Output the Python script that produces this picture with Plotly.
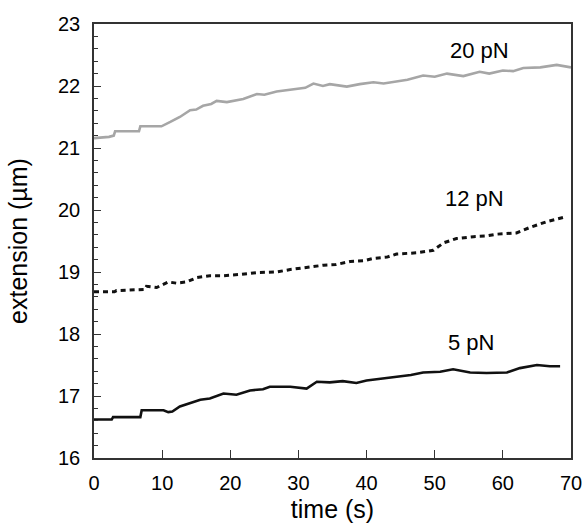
import plotly.graph_objects as go

t_20 = [0, 2.2, 2.9, 3.1, 6.6, 6.8, 9.9, 10.5, 11.2, 12.6, 13.2, 14.1, 15.0, 16, 17.2, 18, 19.5, 21.9, 23.9,
        25.0, 26.8, 28.2, 29.7, 31.0, 32.2, 33.6, 34.6, 37.1, 39.0, 41, 42.5, 44.4, 46.0, 48.3, 50.0, 51.8,
        54.2, 56.6, 58.0, 60, 61.5, 63, 65.5, 67.9, 70]
y_20 = [21.16, 21.18, 21.20, 21.27, 21.27, 21.35, 21.35, 21.38, 21.42, 21.50, 21.54, 21.61, 21.62, 21.68, 21.71,
        21.76, 21.74, 21.79, 21.87, 21.86, 21.91, 21.93, 21.95, 21.97, 22.04, 22.00, 22.03, 21.99, 22.03, 22.06,
        22.04, 22.07, 22.10, 22.17, 22.15, 22.20, 22.16, 22.23, 22.20, 22.25, 22.24, 22.29, 22.30, 22.34, 22.30]

t_12 = [0, 3.0, 3.3, 6.3, 7.5, 7.7, 9.2, 10.9, 12.1, 13.6, 15.1, 17, 19, 21.4, 23.9, 26.8, 28.8, 31.7, 33.7,
        35.5, 37.6, 39.5, 41, 43.0, 44.4, 47.4, 49.8, 51.3, 53.2, 55.7, 57.5, 59.1, 62, 64, 66.4, 68.9]
y_12 = [18.68, 18.68, 18.70, 18.71, 18.72, 18.77, 18.75, 18.84, 18.82, 18.84, 18.91, 18.94, 18.94, 18.96, 18.99,
        19.00, 19.04, 19.08, 19.11, 19.12, 19.17, 19.18, 19.22, 19.24, 19.29, 19.31, 19.35, 19.47, 19.54, 19.57,
        19.58, 19.61, 19.63, 19.72, 19.81, 19.88]

t_5 = [0, 2.6, 2.8, 6.8, 7.0, 10.2, 10.9, 11.5, 12.6, 14.1, 15.6, 17, 19, 20.9, 22.9, 24.8, 25.8, 28.8, 31.2,
       32.7, 34.6, 36.5, 38.5, 40.0, 42, 44.4, 46.5, 48.3, 50.8, 52.7, 55.2, 57.6, 60.6, 62.5, 65, 66.9, 68.4]
y_5 = [16.62, 16.62, 16.66, 16.66, 16.77, 16.77, 16.74, 16.75, 16.83, 16.88, 16.94, 16.96, 17.04, 17.02, 17.09,
       17.11, 17.15, 17.15, 17.12, 17.23, 17.22, 17.24, 17.21, 17.25, 17.28, 17.32, 17.34, 17.38, 17.39, 17.43,
       17.38, 17.37, 17.38, 17.45, 17.50, 17.48, 17.48]

labels = ["20 pN", "12 pN", "5 pN"]
label_x = [56.5, 55.8, 55.3]
label_y = [22.57, 20.18, 17.86]

FONT = "Liberation Sans, Arial, sans-serif"

fig = go.Figure()
fig.add_trace(go.Scatter(x=t_20, y=y_20, mode="lines", line=dict(color="#a6a6a6", width=2.6)))
fig.add_trace(go.Scatter(x=t_12, y=y_12, mode="lines", line=dict(color="#111111", width=3, dash="5px,4px")))
fig.add_trace(go.Scatter(x=t_5, y=y_5, mode="lines", line=dict(color="#111111", width=2.6)))

for txt, lx, ly in zip(labels, label_x, label_y):
    fig.add_annotation(x=lx, y=ly, text=txt, showarrow=False, font=dict(family=FONT, size=22, color="#000"))

fig.update_layout(
    width=584, height=531,
    margin=dict(l=94, r=13, t=24, b=73, autoexpand=False),
    paper_bgcolor="white", plot_bgcolor="white",
    showlegend=False,
    font=dict(family=FONT, size=20, color="#000"),
)
fig.update_xaxes(
    range=[0, 70], tickvals=[0, 10, 20, 30, 40, 50, 60, 70],
    showgrid=False, zeroline=False, automargin=False,
    showline=True, linecolor="#333", linewidth=1.5, mirror=True,
    ticks="inside", ticklen=8, tickwidth=1.2, tickcolor="#333",
    tickfont=dict(size=20),
    ticklabelstandoff=6,
    title=dict(text="time (s)", font=dict(size=25), standoff=8),
)
fig.update_yaxes(
    range=[16, 23], tickvals=[16, 17, 18, 19, 20, 21, 22, 23],
    showgrid=False, zeroline=False, automargin=False,
    showline=True, linecolor="#333", linewidth=1.5, mirror=True,
    ticks="inside", ticklen=7, tickwidth=1.2, tickcolor="#333",
    minor=dict(dtick=0.2, ticks="inside", ticklen=4, tickwidth=1.2, tickcolor="#333", showgrid=False),
    tickfont=dict(size=20),
    ticklabelstandoff=8,
    title=dict(text="extension (µm)", font=dict(size=25), standoff=23),
)

fig.write_html(
    "out.html",
    config={"displayModeBar": False},
    post_script="document.body.style.margin='0';document.body.style.overflow='hidden';",
)
